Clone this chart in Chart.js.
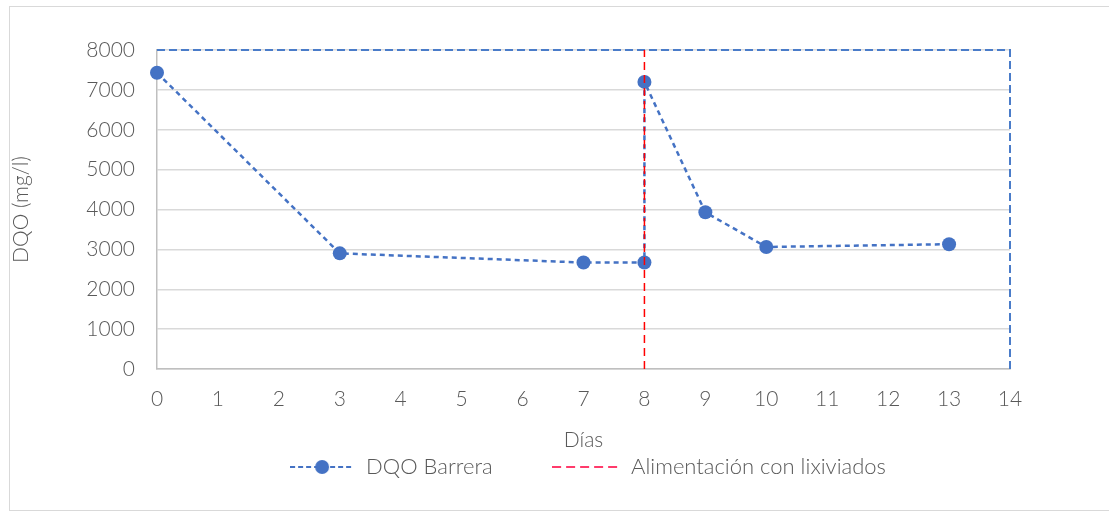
<!DOCTYPE html>
<html>
<head>
<meta charset="utf-8">
<script src="https://cdn.jsdelivr.net/npm/chart.js@4"></script>
<style>
  html, body { margin: 0; padding: 0; background: #ffffff; }
  #wrap { position: relative; width: 1109px; height: 515px; }
  #frame { position: absolute; left: 9px; top: 6px; width: 1106px; height: 505px; border: 1px solid #d9d9d9; box-sizing: border-box; }
  canvas { position: absolute; left: 0; top: 0; }
</style>
</head>
<body>
<div id="wrap">
  <div id="frame"></div>
  <canvas id="chart" width="1109" height="515"></canvas>
</div>
<script>
// Días de muestreo y DQO medida en la barrera (mg/l)
const dias = [0, 3, 7, 8, 8, 9, 10, 13];
const dqoBarrera = [7430, 2900, 2670, 2670, 7200, 3930, 3060, 3130];

// Línea vertical: inicio de la alimentación con lixiviados
const alimentacionX = [8, 8];
const alimentacionY = [0, 8000];

// Marco discontinuo superior y derecho
const marcoX = [0, 14, 14];
const marcoY = [8000, 8000, 0];

const xTicks = [0, 1, 2, 3, 4, 5, 6, 7, 8, 9, 10, 11, 12, 13, 14];
const yTicks = [0, 1000, 2000, 3000, 4000, 5000, 6000, 7000, 8000];

const toPoints = (xs, ys) => xs.map((x, i) => ({ x: x, y: ys[i] }));

const FONT = "Lato, 'Open Sans', sans-serif";
const TEXT = '#595959';
const BLUE = '#4472C4';
const RED = '#FF0000';
const FS = 21;

// Legend swatches: dashed line with a marker, and a plain dashed line
function swatch(color, withDot, w) {
  const c = document.createElement('canvas');
  c.width = w; c.height = 16;
  const g = c.getContext('2d');
  g.strokeStyle = color;
  g.lineWidth = 2;
  g.setLineDash(withDot ? [5, 3] : [9, 5]);
  g.beginPath(); g.moveTo(0, 8); g.lineTo(w, 8); g.stroke();
  if (withDot) {
    g.setLineDash([]);
    g.fillStyle = color;
    g.beginPath(); g.arc(w / 2, 8, 7, 0, Math.PI * 2); g.fill();
  }
  return c;
}

// Centre the legend under the plot area rather than the whole canvas
const legendShift = {
  id: 'legendShift',
  afterLayout(chart) {
    const lg = chart.legend;
    const dx = 80;
    lg.left += dx;
    lg.right += dx;
  }
};

new Chart(document.getElementById('chart'), {
  type: 'scatter',
  plugins: [legendShift],
  data: {
    datasets: [
      {
        label: 'DQO Barrera',
        data: toPoints(dias, dqoBarrera),
        showLine: true,
        borderColor: BLUE,
        backgroundColor: BLUE,
        borderWidth: 2.5,
        borderDash: [5, 4],
        pointRadius: 7,
        pointHoverRadius: 7,
        pointBorderWidth: 0,
        clip: false,
        order: 1,
        swatchImg: swatch(BLUE, true, 64)
      },
      {
        label: 'Alimentación con lixiviados',
        data: toPoints(alimentacionX, alimentacionY),
        showLine: true,
        borderColor: RED,
        backgroundColor: RED,
        borderWidth: 1.5,
        borderDash: [8, 5],
        pointRadius: 0,
        order: 0,
        swatchImg: swatch('#FF3B6B', false, 70)
      },
      {
        label: 'marco',
        data: toPoints(marcoX, marcoY),
        showLine: true,
        borderColor: '#4A7CC9',
        borderWidth: 2,
        borderDash: [8, 4],
        pointRadius: 0,
        clip: false,
        order: 2
      }
    ]
  },
  options: {
    responsive: false,
    animation: false,
    layout: { padding: { left: 5, right: 99, top: 50, bottom: 27 } },
    plugins: {
      tooltip: { enabled: false },
      legend: {
        position: 'bottom',
        labels: {
          font: { family: FONT, size: 22, weight: 300 },
          color: TEXT,
          usePointStyle: true,
          pointStyleWidth: 66,
          boxHeight: 16,
          padding: 12,
          filter: (item) => item.text !== 'marco',
          generateLabels: (chart) => chart.data.datasets.map((ds, i) => ({
            text: ds.label + (i === 0 ? '\u2003\u2003\u2002\u2005' : ''),
            datasetIndex: i,
            pointStyle: ds.swatchImg || 'line',
            fillStyle: ds.borderColor,
            strokeStyle: ds.borderColor,
            lineWidth: 0,
            fontColor: TEXT,
            hidden: false
          }))
        }
      }
    },
    scales: {
      x: {
        type: 'linear',
        min: 0,
        max: 14,
        afterBuildTicks: (s) => { s.ticks = xTicks.map(v => ({ value: v })); },
        afterFit: (s) => { s.height = 75; },
        grid: { display: false, drawTicks: false },
        border: { display: true, color: '#bfbfbf', width: 1.5 },
        ticks: { font: { family: FONT, size: FS, weight: 300 }, color: TEXT, padding: 18, callback: (v) => String(v) },
        title: { display: true, text: 'Días', font: { family: FONT, size: FS, weight: 300 }, color: TEXT, padding: { top: 0, bottom: -9 } }
      },
      y: {
        min: 0,
        max: 8000,
        afterBuildTicks: (s) => { s.ticks = yTicks.map(v => ({ value: v })); },
        afterFit: (s) => { s.width = 152; },
        grid: { color: '#d9d9d9', lineWidth: 1.5, drawTicks: false },
        border: { display: true, color: '#bfbfbf', width: 1.5 },
        ticks: { font: { family: FONT, size: FS, weight: 300 }, color: TEXT, padding: 22, callback: (v) => String(v) },
        title: { display: true, text: 'DQO (mg/l)', font: { family: FONT, size: FS, weight: 300 }, color: TEXT, padding: { bottom: 0 } }
      }
    }
  }
});
</script>
</body>
</html>
